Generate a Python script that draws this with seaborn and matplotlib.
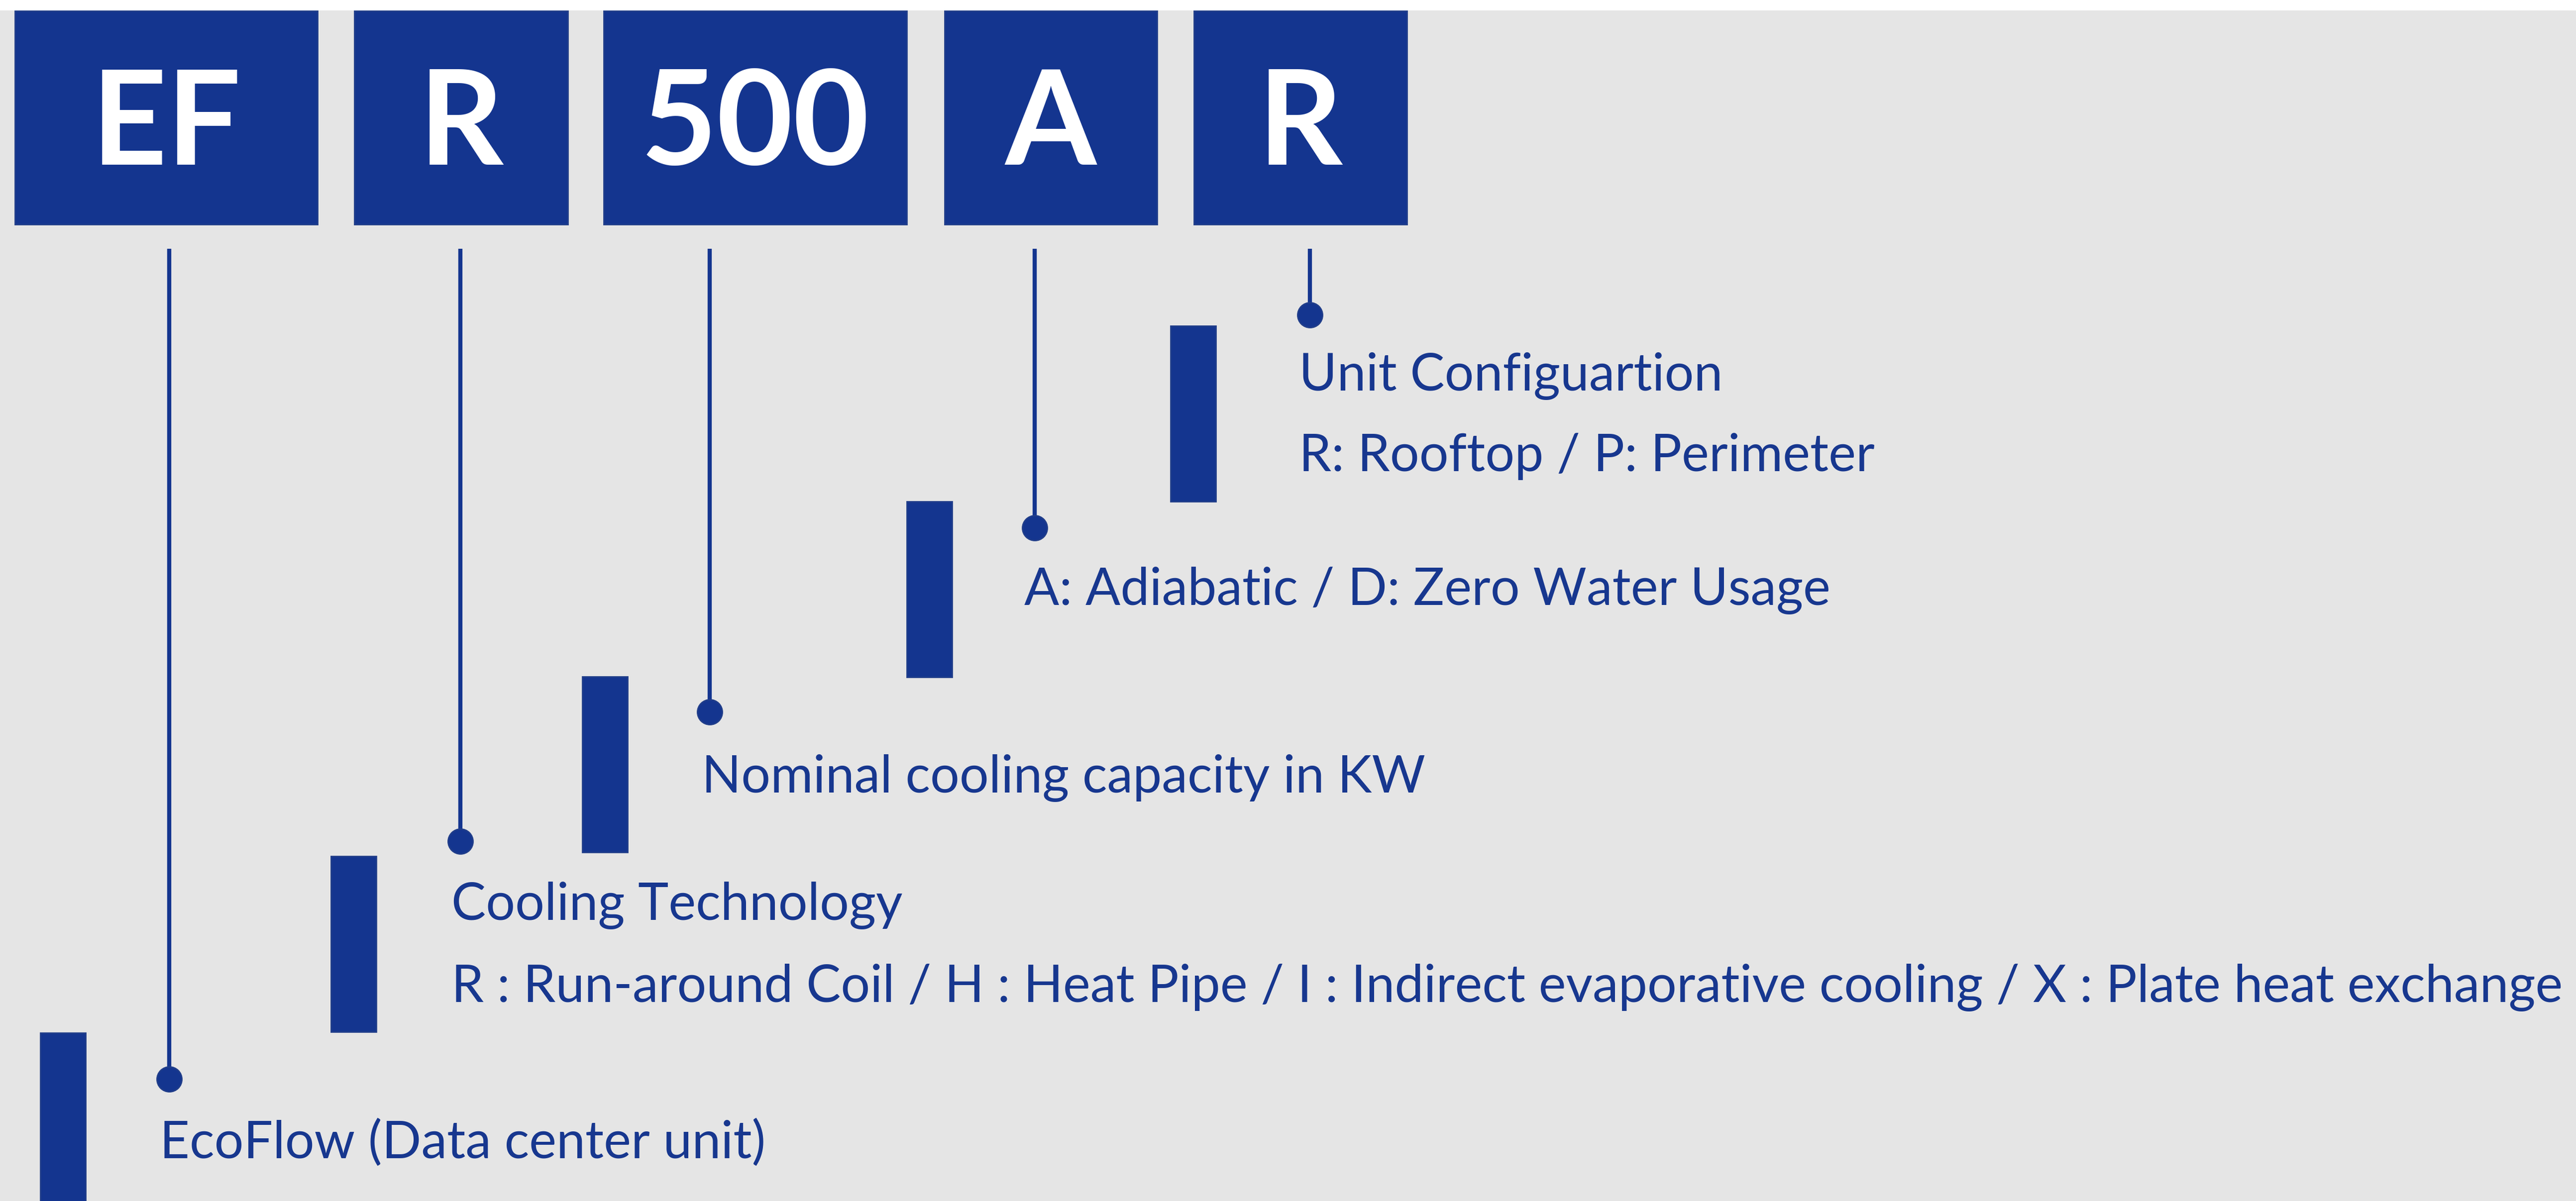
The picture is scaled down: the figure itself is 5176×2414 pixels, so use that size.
import matplotlib
matplotlib.use("Agg")
import matplotlib.pyplot as plt
from matplotlib.patches import Rectangle
import seaborn as sns
import pandas as pd

# ---------------- data ----------------
codes = ["EF", "R", "500", "A", "R"]
code_titles = [
    "EcoFlow (Data center unit)",
    "Cooling Technology",
    "Nominal cooling capacity in KW",
    "A: Adiabatic / D: Zero Water Usage",
    "Unit Configuartion",
]
code_details = [
    "",
    "R : Run-around Coil / H : Heat Pipe / I : Indirect evaporative cooling / X : Plate heat exchange",
    "",
    "",
    "R: Rooftop / P: Perimeter",
]

# ---------------- layout (pixels) ----------------
W, H = 5176, 2414
box_x0 = [30, 712, 1213, 1898, 2399]
box_x1 = [638, 1141, 1822, 2325, 2827]
box_y0, box_y1 = 22, 451
code_baseline = 331
line_x = [340, 925, 1426, 2079, 2632]
line_top = 500
dot_y = [2169, 1691, 1431, 1061, 633]
bar_x0 = [81, 665, 1170, 1822, 2352]
bar_w = 91
bar_y0 = [2076, 1721, 1360, 1008, 655]
bar_h = 353
title_x = [321, 907, 1410, 2058, 2610]
title_base = [2328, 1849, 1593, 1216, 785]
detail_base = [None, 2014, None, None, 947]
long_target_width = 4243

BLUE = "#14358F"
TEXT_BLUE = "#17378F"
BG = "#E5E5E5"

sns.set_theme(style="white")
body_font = ["Lato", "Liberation Sans", "DejaVu Sans"]
code_font = ["Lato", "Liberation Sans", "DejaVu Sans"]

fig = plt.figure(figsize=(W / 100, H / 100), dpi=100, facecolor=BG)
ax = fig.add_axes([0, 0, 1, 1])
ax.set_xlim(0, W)
ax.set_ylim(H, 0)
ax.axis("off")
ax.set_facecolor(BG)

# white strip at the top
ax.add_patch(Rectangle((0, 0), W, 21, facecolor="white", edgecolor="none", zorder=1))

# code boxes
for i, c in enumerate(codes):
    ax.add_patch(Rectangle((box_x0[i], box_y0), box_x1[i] - box_x0[i], box_y1 - box_y0,
                           facecolor=BLUE, edgecolor="#213E8A", linewidth=2, zorder=2))
    ax.text((box_x0[i] + box_x1[i]) / 2, code_baseline, c,
            color="white", fontsize=190, fontweight="bold", family=code_font,
            ha="center", va="baseline", zorder=3)

# staircase bars
for i in range(len(codes)):
    ax.add_patch(Rectangle((bar_x0[i], bar_y0[i]), bar_w, bar_h,
                           facecolor=BLUE, edgecolor="#213E8A", linewidth=2, zorder=2))

# connector lines
ax.vlines(line_x, [line_top] * len(codes), dot_y, color=BLUE, linewidth=6, zorder=2)

# dots
dots = pd.DataFrame({"x": line_x, "y": dot_y, "code": codes})
sns.scatterplot(data=dots, x="x", y="y", ax=ax, s=1300, color=BLUE,
                edgecolor="#213E8A", linewidth=2, zorder=4, legend=False)
ax.set_xlim(0, W)
ax.set_ylim(H, 0)
ax.axis("off")

# texts
texts = []
for i in range(len(codes)):
    t = ax.text(title_x[i], title_base[i], code_titles[i], color=TEXT_BLUE,
                fontsize=80, family=body_font, ha="left", va="baseline", zorder=3)
    texts.append(t)
    if code_details[i]:
        t2 = ax.text(title_x[i], detail_base[i], code_details[i], color=TEXT_BLUE,
                     fontsize=80, family=body_font, ha="left", va="baseline", zorder=3)
        texts.append(t2)

# fit body font size so that the long line spans the measured width
fig.canvas.draw()
renderer = fig.canvas.get_renderer()
long_t = [t for t in texts if t.get_text() == code_details[1]][0]
w = long_t.get_window_extent(renderer).width
scale = long_target_width / w
for t in texts:
    t.set_fontsize(80 * scale)

fig.savefig("out.png", dpi=100, facecolor=BG)
